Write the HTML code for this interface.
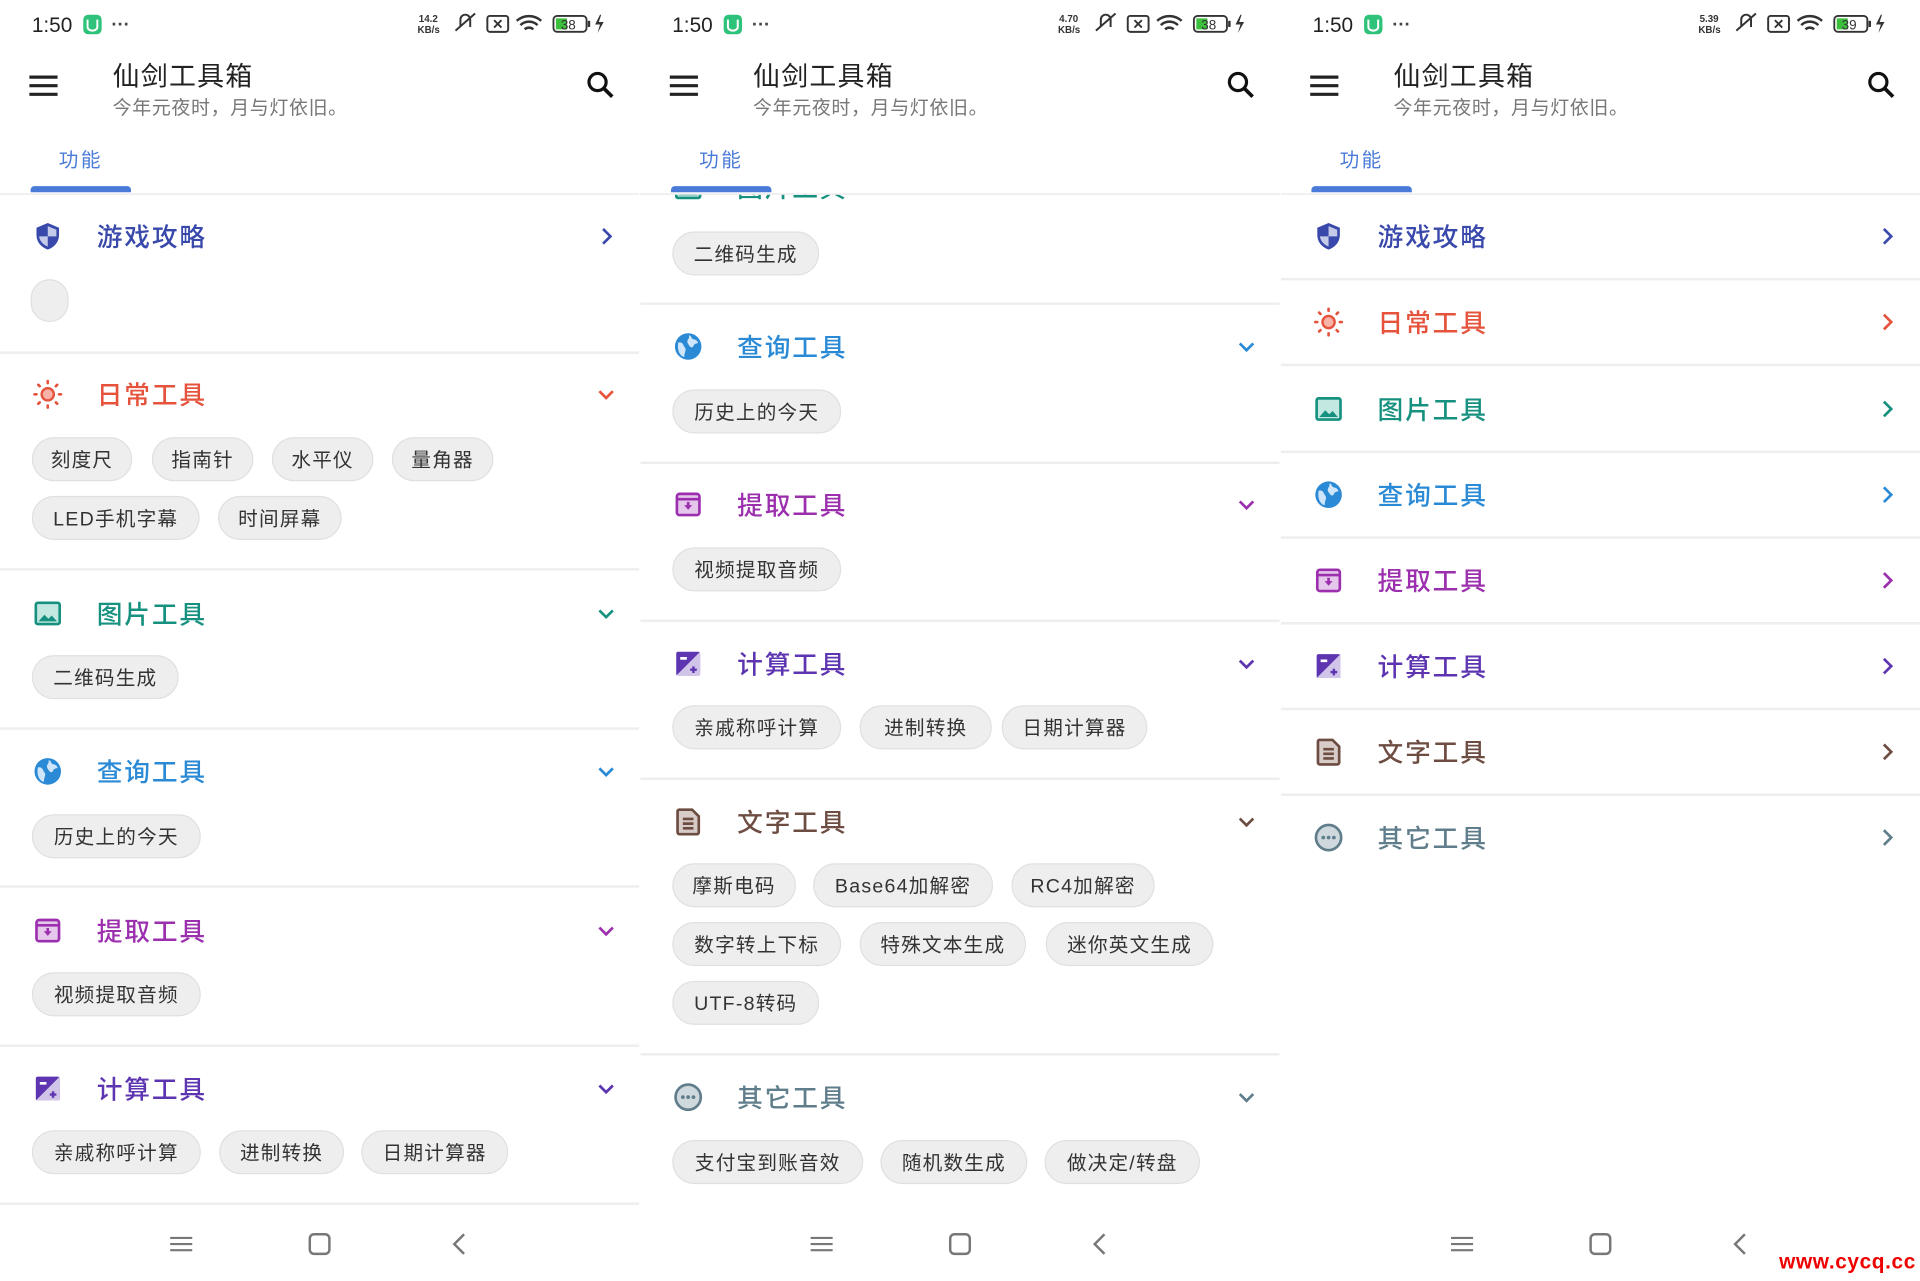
<!DOCTYPE html>
<html><head><meta charset="utf-8">
<style>
html,body{margin:0;padding:0;background:#fff;width:1920px;height:1280px;overflow:hidden}
#w{position:absolute;left:0;top:0;width:1568px;height:1046px;transform:scale(1.22449);transform-origin:0 0;font-family:"Liberation Sans","Noto Sans CJK SC",sans-serif;background:#fff}
.p{position:absolute;top:0;width:522px;height:1046px;overflow:hidden;background:#fff}
.a{position:absolute}
.ic{position:absolute;left:26px;width:26px;height:26px}
.ht{position:absolute;left:79px;margin-top:2px;font-size:21px;line-height:26px;letter-spacing:1.5px;white-space:nowrap;font-weight:500}
.cv{position:absolute;left:486px;width:18px;height:18px}
.ch{position:absolute;height:36px;line-height:37px;border-radius:18px;background:#eeeeee;border:1px solid #e0e0e0;font-size:16px;color:#333;text-align:center;letter-spacing:1px;box-sizing:border-box;white-space:nowrap}
.dv{position:absolute;left:0;width:522px;height:2px;background:#eeeeee}
.clip{position:absolute;left:0;top:159px;width:522px;height:830px;overflow:hidden}
.in{position:absolute;left:0;top:-159px;width:522px;height:1046px}
.kb{position:absolute;left:0;top:0}
</style></head><body>
<svg width="0" height="0" style="position:absolute">
<defs>
<symbol id="shield" viewBox="0 0 24 24"><path d="M12 2L20.5 5.5V11C20.5 16.5 16.8 20.3 12 22C7.2 20.3 3.5 16.5 3.5 11V5.5Z" fill="#3949ab"/><path d="M12 4.3L18.5 7V12H12ZM12 12V19.7C8.6 18.3 5.8 15.5 5.5 12Z" fill="#c5cae9"/></symbol>
<symbol id="sun" viewBox="0 0 24 24"><circle cx="12" cy="12" r="4.6" fill="#f8b3a8" stroke="#e5533d" stroke-width="1.8"/><g stroke="#e5533d" stroke-width="2" stroke-linecap="round"><path d="M12 2v1.5M12 20.5V22M2 12h1.5M20.5 12H22M4.9 4.9l1 1M18.1 18.1l1 1M4.9 19.1l1-1M18.1 5.9l1-1"/></g></symbol>
<symbol id="img" viewBox="0 0 24 24"><rect x="3" y="4" width="18" height="16" rx="1.5" fill="#c3e8e2" stroke="#17917f" stroke-width="2"/><path d="M5 18l4.5-5 3 3 2.5-2.5L19 18Z" fill="#17917f"/></symbol>
<symbol id="globe" viewBox="0 0 24 24"><circle cx="12" cy="12" r="10" fill="#2b8ad6"/><path d="M4.5 9c2-.5 3.5.5 4 2s2 2 1.5 4-1 3.5-1 5C6 19 3.5 15.5 4.5 9ZM13 3.5c2 1 1 2.5 3 3s3 1 3.5 3c-1.5 0-3 .5-3.5 2s-2 1.5-3 0-2.5-3-1-5 0-2.5 1-3Z" fill="#cfe6fa"/></symbol>
<symbol id="arch" viewBox="0 0 24 24"><rect x="3.5" y="4" width="17" height="16" rx="2" fill="#e6c7ec" stroke="#9b2fae" stroke-width="2"/><path d="M3.5 8h17" stroke="#9b2fae" stroke-width="2"/><path d="M9 12.5h6l-3 3.5Z" fill="#9b2fae"/><path d="M12 10v3" stroke="#9b2fae" stroke-width="2"/></symbol>
<symbol id="calc" viewBox="0 0 24 24"><rect x="3" y="3" width="18" height="18" rx="1.5" fill="#5e35b1"/><path d="M21 3L3 21H21Z" fill="#d1c4e9"/><path d="M6 8h5" stroke="#fff" stroke-width="2"/><path d="M13.5 16.5h5M16 14v5" stroke="#5e35b1" stroke-width="1.8"/></symbol>
<symbol id="doc" viewBox="0 0 24 24"><path d="M5 3h10l5 5v12a1.5 1.5 0 0 1-1.5 1.5h-13A1.5 1.5 0 0 1 4 20V4.5A1.5 1.5 0 0 1 5 3Z" fill="#d7ccc8" stroke="#6d4c41" stroke-width="2"/><path d="M8 10h8M8 13.5h8M8 17h8" stroke="#6d4c41" stroke-width="2"/></symbol>
<symbol id="dots" viewBox="0 0 24 24"><circle cx="12" cy="12" r="9.5" fill="#cfd8dc" stroke="#607d8b" stroke-width="2"/><circle cx="8" cy="12" r="1.4" fill="#607d8b"/><circle cx="12" cy="12" r="1.4" fill="#607d8b"/><circle cx="16" cy="12" r="1.4" fill="#607d8b"/></symbol>
<symbol id="rt" viewBox="0 0 18 18"><path d="M6.5 3l6 6-6 6" fill="none" stroke="currentColor" stroke-width="2.2"/></symbol>
<symbol id="dn" viewBox="0 0 18 18"><path d="M3.5 6.5l5.5 5.5 5.5-5.5" fill="none" stroke="currentColor" stroke-width="2.2"/></symbol>
<symbol id="top" viewBox="0 0 522 160">
<text x="26" y="26" font-family="Liberation Sans" font-size="17" fill="#222">1:50</text>
<rect x="68" y="12" width="15" height="16" rx="4" fill="#2fc27b"/><path d="M71.5 16v6a4 3 0 0 0 8 0v-6" fill="none" stroke="#fff" stroke-width="1.6"/>
<text x="91" y="25" font-family="Liberation Sans" font-size="15" fill="#444" font-weight="bold">···</text>
<text x="341" y="27" font-family="Liberation Sans" font-size="8" fill="#333" font-weight="bold">KB/s</text>
<path d="M372 25l16-14M376 22v-6a4 4 0 0 1 8 0v6" fill="none" stroke="#333" stroke-width="1.6"/>
<rect x="398" y="13" width="17" height="13" rx="2" fill="none" stroke="#333" stroke-width="1.6"/><path d="M403.5 16.5l6 6M409.5 16.5l-6 6" stroke="#333" stroke-width="1.5"/>
<path d="M422 17a15 15 0 0 1 20 0M425 20.5a10 10 0 0 1 14 0M428.5 24a5 5 0 0 1 7 0" fill="none" stroke="#333" stroke-width="2"/>
<rect x="452" y="13" width="27" height="13" rx="3" fill="none" stroke="#333" stroke-width="1.5"/><rect x="454" y="15" width="9" height="9" fill="#3cbf3c"/><rect x="480" y="17" width="2" height="5" fill="#333"/>
<path d="M490 12l-4 8h4l-2 7 5-9h-4l2-6Z" fill="#333"/>
<path d="M24 63h23M24 70h23M24 77h23" stroke="#222" stroke-width="2.6"/>
<circle cx="488" cy="67" r="7" fill="none" stroke="#111" stroke-width="2.6"/><path d="M493 72l7 7" stroke="#111" stroke-width="3"/>
</symbol>
<symbol id="nav" viewBox="0 0 522 40">
<path d="M139 11h18M139 16h18M139 21h18" stroke="#777" stroke-width="1.8"/>
<rect x="253" y="8" width="16" height="16" rx="3.5" fill="none" stroke="#777" stroke-width="2"/>
<path d="M379 8l-8 8 8 8" fill="none" stroke="#777" stroke-width="2"/>
</symbol>
</defs></svg>

<div id="w">

<!-- PANEL 1 -->
<div class="p" style="left:0">
<svg class="a" style="left:0;top:0" width="522" height="160"><use href="#top"/></svg>
<svg class="kb" width="522" height="40"><text x="342" y="18" font-family="Liberation Sans" font-size="8" fill="#333" font-weight="bold">14.2</text><text x="458" y="24" font-family="Liberation Sans" font-size="11" fill="#333">38</text></svg>
<div class="a" style="left:92px;top:45px;font-size:22px;color:#222;letter-spacing:1px">仙剑工具箱</div>
<div class="a" style="left:92px;top:76px;font-size:15.5px;color:#777;letter-spacing:0.5px">今年元夜时，月与灯依旧。</div>
<div class="a" style="left:48px;top:117px;font-size:16px;color:#4a7bd8;letter-spacing:2px">功能</div>
<div class="a" style="left:25px;top:152px;width:82px;height:5px;border-radius:3px 3px 0 0;background:#4a7bd8"></div>
<div class="a" style="left:0;top:158px;width:522px;height:1px;background:#e6e6e6"></div>

<svg class="ic" style="top:180px"><use href="#shield"/></svg><div class="ht" style="top:180px;color:#3949ab">游戏攻略</div><svg class="cv" style="top:184px;color:#3949ab"><use href="#rt"/></svg>
<div class="a" style="left:25px;top:228px;width:31px;height:35px;border-radius:16px;background:#eee;border:1px solid #e0e0e0;box-sizing:border-box"></div>
<div class="dv" style="top:287px"></div>

<svg class="ic" style="top:309px"><use href="#sun"/></svg><div class="ht" style="top:309px;color:#e5533d">日常工具</div><svg class="cv" style="top:313px;color:#e5533d"><use href="#dn"/></svg>
<div class="ch" style="top:357px;left:26px;width:82px">刻度尺</div>
<div class="ch" style="top:357px;left:124px;width:83px">指南针</div>
<div class="ch" style="top:357px;left:222px;width:83px">水平仪</div>
<div class="ch" style="top:357px;left:320px;width:83px">量角器</div>
<div class="ch" style="top:405px;left:26px;width:137px">LED手机字幕</div>
<div class="ch" style="top:405px;left:178px;width:101px">时间屏幕</div>
<div class="dv" style="top:464px"></div>

<svg class="ic" style="top:488px"><use href="#img"/></svg><div class="ht" style="top:488px;color:#17917f">图片工具</div><svg class="cv" style="top:492px;color:#17917f"><use href="#dn"/></svg>
<div class="ch" style="top:535px;left:26px;width:120px">二维码生成</div>
<div class="dv" style="top:594px"></div>

<svg class="ic" style="top:617px"><use href="#globe"/></svg><div class="ht" style="top:617px;color:#2b8ad6">查询工具</div><svg class="cv" style="top:621px;color:#2b8ad6"><use href="#dn"/></svg>
<div class="ch" style="top:665px;left:26px;width:138px">历史上的今天</div>
<div class="dv" style="top:723px"></div>

<svg class="ic" style="top:747px"><use href="#arch"/></svg><div class="ht" style="top:747px;color:#9b2fae">提取工具</div><svg class="cv" style="top:751px;color:#9b2fae"><use href="#dn"/></svg>
<div class="ch" style="top:794px;left:26px;width:138px">视频提取音频</div>
<div class="dv" style="top:853px"></div>

<svg class="ic" style="top:876px"><use href="#calc"/></svg><div class="ht" style="top:876px;color:#5e35b1">计算工具</div><svg class="cv" style="top:880px;color:#5e35b1"><use href="#dn"/></svg>
<div class="ch" style="top:923px;left:26px;width:138px">亲戚称呼计算</div>
<div class="ch" style="top:923px;left:179px;width:102px">进制转换</div>
<div class="ch" style="top:923px;left:295px;width:120px">日期计算器</div>
<div class="dv" style="top:982px"></div>

<svg class="a" style="left:0;top:1000px" width="522" height="40"><use href="#nav"/></svg>
</div>

<!-- PANEL 2 -->
<div class="p" style="left:523px">
<svg class="a" style="left:0;top:0" width="522" height="160"><use href="#top"/></svg>
<svg class="kb" width="522" height="40"><text x="342" y="18" font-family="Liberation Sans" font-size="8" fill="#333" font-weight="bold">4.70</text><text x="458" y="24" font-family="Liberation Sans" font-size="11" fill="#333">38</text></svg>
<div class="a" style="left:92px;top:45px;font-size:22px;color:#222;letter-spacing:1px">仙剑工具箱</div>
<div class="a" style="left:92px;top:76px;font-size:15.5px;color:#777;letter-spacing:0.5px">今年元夜时，月与灯依旧。</div>
<div class="a" style="left:48px;top:117px;font-size:16px;color:#4a7bd8;letter-spacing:2px">功能</div>
<div class="clip"><div class="in">
<svg class="ic" style="top:140px"><use href="#img"/></svg><div class="ht" style="top:140px;color:#17917f">图片工具</div>
<div class="ch" style="top:189px;left:26px;width:120px">二维码生成</div>
<div class="dv" style="top:247px"></div>

<svg class="ic" style="top:270px"><use href="#globe"/></svg><div class="ht" style="top:270px;color:#2b8ad6">查询工具</div><svg class="cv" style="top:274px;color:#2b8ad6"><use href="#dn"/></svg>
<div class="ch" style="top:318px;left:26px;width:138px">历史上的今天</div>
<div class="dv" style="top:377px"></div>

<svg class="ic" style="top:399px"><use href="#arch"/></svg><div class="ht" style="top:399px;color:#9b2fae">提取工具</div><svg class="cv" style="top:403px;color:#9b2fae"><use href="#dn"/></svg>
<div class="ch" style="top:447px;left:26px;width:138px">视频提取音频</div>
<div class="dv" style="top:506px"></div>

<svg class="ic" style="top:529px"><use href="#calc"/></svg><div class="ht" style="top:529px;color:#5e35b1">计算工具</div><svg class="cv" style="top:533px;color:#5e35b1"><use href="#dn"/></svg>
<div class="ch" style="top:576px;left:26px;width:138px">亲戚称呼计算</div>
<div class="ch" style="top:576px;left:179px;width:108px">进制转换</div>
<div class="ch" style="top:576px;left:295px;width:119px">日期计算器</div>
<div class="dv" style="top:635px"></div>

<svg class="ic" style="top:658px"><use href="#doc"/></svg><div class="ht" style="top:658px;color:#6d4c41">文字工具</div><svg class="cv" style="top:662px;color:#6d4c41"><use href="#dn"/></svg>
<div class="ch" style="top:705px;left:26px;width:101px">摩斯电码</div>
<div class="ch" style="top:705px;left:141px;width:147px">Base64加解密</div>
<div class="ch" style="top:705px;left:303px;width:117px">RC4加解密</div>
<div class="ch" style="top:753px;left:26px;width:138px">数字转上下标</div>
<div class="ch" style="top:753px;left:179px;width:136px">特殊文本生成</div>
<div class="ch" style="top:753px;left:331px;width:137px">迷你英文生成</div>
<div class="ch" style="top:801px;left:26px;width:120px">UTF-8转码</div>
<div class="dv" style="top:860px"></div>

<svg class="ic" style="top:883px"><use href="#dots"/></svg><div class="ht" style="top:883px;color:#607d8b">其它工具</div><svg class="cv" style="top:887px;color:#607d8b"><use href="#dn"/></svg>
<div class="ch" style="top:931px;left:26px;width:156px">支付宝到账音效</div>
<div class="ch" style="top:931px;left:196px;width:120px">随机数生成</div>
<div class="ch" style="top:931px;left:330px;width:127px">做决定/转盘</div>
</div></div>
<div class="a" style="left:25px;top:152px;width:82px;height:5px;border-radius:3px 3px 0 0;background:#4a7bd8"></div>
<div class="a" style="left:0;top:158px;width:522px;height:1px;background:#e6e6e6"></div>
<svg class="a" style="left:0;top:1000px" width="522" height="40"><use href="#nav"/></svg>
</div>

<!-- PANEL 3 -->
<div class="p" style="left:1046px">
<svg class="a" style="left:0;top:0" width="522" height="160"><use href="#top"/></svg>
<svg class="kb" width="522" height="40"><text x="342" y="18" font-family="Liberation Sans" font-size="8" fill="#333" font-weight="bold">5.39</text><text x="458" y="24" font-family="Liberation Sans" font-size="11" fill="#333">39</text></svg>
<div class="a" style="left:92px;top:45px;font-size:22px;color:#222;letter-spacing:1px">仙剑工具箱</div>
<div class="a" style="left:92px;top:76px;font-size:15.5px;color:#777;letter-spacing:0.5px">今年元夜时，月与灯依旧。</div>
<div class="a" style="left:48px;top:117px;font-size:16px;color:#4a7bd8;letter-spacing:2px">功能</div>
<div class="a" style="left:25px;top:152px;width:82px;height:5px;border-radius:3px 3px 0 0;background:#4a7bd8"></div>
<div class="a" style="left:0;top:158px;width:522px;height:1px;background:#e6e6e6"></div>

<svg class="ic" style="top:180px"><use href="#shield"/></svg><div class="ht" style="top:180px;color:#3949ab">游戏攻略</div><svg class="cv" style="top:184px;color:#3949ab"><use href="#rt"/></svg>
<div class="dv" style="top:227px"></div>
<svg class="ic" style="top:250px"><use href="#sun"/></svg><div class="ht" style="top:250px;color:#e5533d">日常工具</div><svg class="cv" style="top:254px;color:#e5533d"><use href="#rt"/></svg>
<div class="dv" style="top:297px"></div>
<svg class="ic" style="top:321px"><use href="#img"/></svg><div class="ht" style="top:321px;color:#17917f">图片工具</div><svg class="cv" style="top:325px;color:#17917f"><use href="#rt"/></svg>
<div class="dv" style="top:368px"></div>
<svg class="ic" style="top:391px"><use href="#globe"/></svg><div class="ht" style="top:391px;color:#2b8ad6">查询工具</div><svg class="cv" style="top:395px;color:#2b8ad6"><use href="#rt"/></svg>
<div class="dv" style="top:438px"></div>
<svg class="ic" style="top:461px"><use href="#arch"/></svg><div class="ht" style="top:461px;color:#9b2fae">提取工具</div><svg class="cv" style="top:465px;color:#9b2fae"><use href="#rt"/></svg>
<div class="dv" style="top:508px"></div>
<svg class="ic" style="top:531px"><use href="#calc"/></svg><div class="ht" style="top:531px;color:#5e35b1">计算工具</div><svg class="cv" style="top:535px;color:#5e35b1"><use href="#rt"/></svg>
<div class="dv" style="top:578px"></div>
<svg class="ic" style="top:601px"><use href="#doc"/></svg><div class="ht" style="top:601px;color:#6d4c41">文字工具</div><svg class="cv" style="top:605px;color:#6d4c41"><use href="#rt"/></svg>
<div class="dv" style="top:648px"></div>
<svg class="ic" style="top:671px"><use href="#dots"/></svg><div class="ht" style="top:671px;color:#607d8b">其它工具</div><svg class="cv" style="top:675px;color:#607d8b"><use href="#rt"/></svg>

<svg class="a" style="left:0;top:1000px" width="522" height="40"><use href="#nav"/></svg>
</div>

<div class="a" style="left:1453px;top:1021px;font-family:'Liberation Sans',sans-serif;font-weight:bold;font-size:17px;color:#ee0000;letter-spacing:0.5px">www.cycq.cc</div>
</div>
</body></html>
